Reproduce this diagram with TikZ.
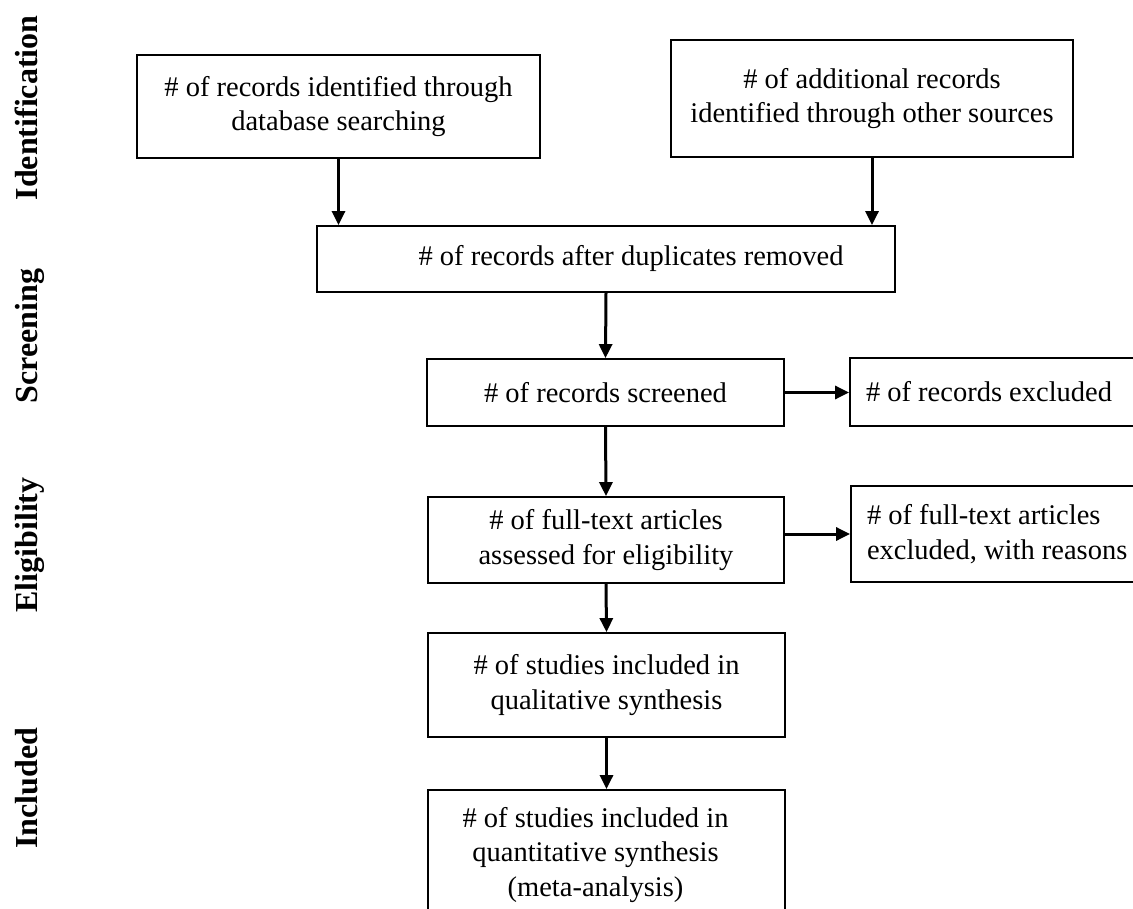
\documentclass[tikz,border=0pt]{standalone}
\usepackage{fontspec}
\setmainfont{Liberation Serif}
\usetikzlibrary{arrows.meta}
\begin{document}
\begin{tikzpicture}[x=1pt,y=-1pt,
  box/.style={draw=black, line width=1.8pt, inner sep=0pt, align=center,
    font=\fontsize{28.5}{34.5}\selectfont},
  sidebox/.style={box, align=flush left, inner xsep=16pt, text width=278pt},
  arr/.style={line width=3pt, -{Triangle[length=14pt,width=13pt]}},
  phase/.style={rotate=90, anchor=base, inner sep=0pt,
    font=\fontsize{32}{36}\selectfont\bfseries}]
\useasboundingbox (0,0) rectangle (1133,909);
\clip (0,0) rectangle (1133,909);

% phase labels
\node[phase] (pid) at (37,108) {Identification};
\node[phase] (psc) at (37,336) {Screening};
\node[phase] (pel) at (37,545) {Eligibility};
\node[phase] (pin) at (37,788) {Included};

% boxes
\node[box, minimum width=403pt, minimum height=103pt] (A) at (338.5,106.5)
  {\# of records identified through\\database searching};
\node[box, minimum width=402pt, minimum height=117pt] (B) at (872,98.5)
  {\# of additional records\\identified through other sources};
\node[box, minimum width=578pt, minimum height=66pt] (C) at (606,259)
  {\hspace*{50pt}\# of records after duplicates removed};
\node[box, minimum width=357pt, minimum height=67pt] (D) at (605.5,392.5)
  {\# of records screened};
\node[sidebox, minimum width=310pt, minimum height=68pt] (Dx) at (1005,392)
  {\# of records excluded};
\node[box, minimum width=356pt, minimum height=86pt] (E) at (606,540)
  {\# of full-text articles\\assessed for eligibility};
\node[sidebox, minimum width=308pt, minimum height=96pt] (Ex) at (1006,534)
  {\# of full-text articles\\excluded, with reasons};
\node[box, minimum width=357pt, minimum height=104pt] (F) at (606.5,685)
  {\# of studies included in\\qualitative synthesis};
\node[box, minimum width=357pt, minimum height=130pt] (G) at (606.5,855)
  {\begin{tabular}{@{}c@{}}\# of studies included in\\quantitative synthesis\\(meta-analysis)\end{tabular}\hspace*{22pt}};

% connectors
\draw[arr] (A.south) -- (A.south |- C.north);
\draw[arr] (B.south) -- (B.south |- C.north);
\draw[arr] (C.south) -- (D.north);
\draw[arr] (D.east) -- (D.east -| Dx.west);
\draw[arr] (D.south) -- (E.north);
\draw[arr] (Ex.west -| E.east) -- (Ex.west);
\draw[arr] (E.south) -- (F.north);
\draw[arr] (F.south) -- (G.north);
\end{tikzpicture}
\end{document}
